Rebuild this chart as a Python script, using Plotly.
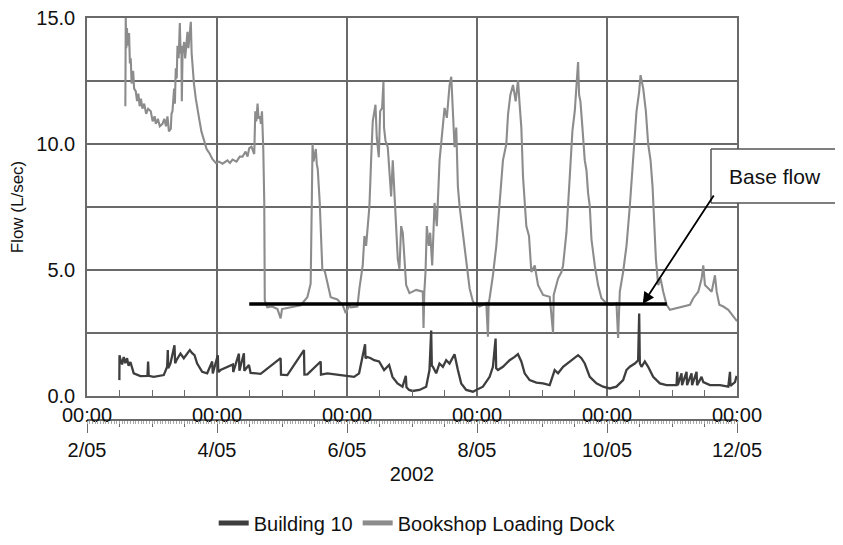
import pandas as pd
import plotly.graph_objects as go

# ---------------- data (time in days after 2 May 2002 00:00) ----------------
start_date = "2002-05-02"
end_date = "2002-05-12"

bookshop_days = [
    0.590, 0.596, 0.605, 0.615, 0.625, 0.647, 0.660, 0.673, 0.686, 0.698, 0.710, 0.725, 0.750,
    0.770, 0.790, 0.810, 0.830, 0.853, 0.880, 0.910, 0.940, 0.981, 1.010, 1.040, 1.058, 1.090,
    1.120, 1.161, 1.190, 1.215, 1.238, 1.260, 1.289, 1.300, 1.315, 1.340, 1.352, 1.366, 1.380,
    1.392, 1.410, 1.428, 1.440, 1.452, 1.459, 1.470, 1.495, 1.510, 1.530, 1.546, 1.560, 1.580,
    1.597, 1.610, 1.623, 1.645, 1.674, 1.700, 1.726, 1.760, 1.803, 1.840, 1.880, 1.930, 1.983,
    2.030, 2.085, 2.160, 2.200, 2.239, 2.300, 2.350, 2.393, 2.440, 2.470, 2.496, 2.530, 2.573,
    2.589, 2.605, 2.624, 2.640, 2.661, 2.675, 2.692, 2.712, 2.727, 2.735, 2.773, 2.850, 2.930,
    2.979, 3.000, 3.100, 3.200, 3.287, 3.390, 3.441, 3.460, 3.470, 3.485, 3.500, 3.520, 3.535,
    3.550, 3.580, 3.621, 3.657, 3.688, 3.749, 3.852, 3.934, 3.955, 3.980, 4.037, 4.057, 4.160,
    4.191, 4.242, 4.268, 4.294, 4.345, 4.371, 4.396, 4.438, 4.458, 4.489, 4.510, 4.540, 4.561,
    4.570, 4.592, 4.627, 4.653, 4.679, 4.704, 4.730, 4.756, 4.781, 4.807, 4.833, 4.858, 4.884,
    4.910, 4.961, 5.064, 5.166, 5.177, 5.190, 5.208, 5.228, 5.259, 5.280, 5.311, 5.347, 5.382,
    5.424, 5.465, 5.501, 5.536, 5.578, 5.604, 5.629, 5.655, 5.681, 5.706, 5.732, 5.783, 5.835,
    5.860, 5.886, 5.937, 5.989, 6.040, 6.091, 6.143, 6.168, 6.180, 6.194, 6.245, 6.297, 6.348,
    6.399, 6.451, 6.477, 6.513, 6.554, 6.595, 6.631, 6.656, 6.682, 6.708, 6.733, 6.759, 6.800,
    6.836, 6.888, 6.939, 7.016, 7.119, 7.170, 7.180, 7.247, 7.299, 7.324, 7.376, 7.427, 7.468,
    7.504, 7.530, 7.555, 7.571, 7.591, 7.622, 7.658, 7.684, 7.709, 7.735, 7.761, 7.812, 7.863,
    7.915, 7.992, 8.069, 8.146, 8.171, 8.185, 8.197, 8.248, 8.300, 8.351, 8.402, 8.454, 8.495,
    8.516, 8.557, 8.598, 8.633, 8.670, 8.701, 8.726, 8.752, 8.788, 8.824, 8.865, 8.917, 8.968,
    9.071, 9.172, 9.276, 9.327, 9.404, 9.456, 9.481, 9.507, 9.558, 9.610, 9.661, 9.687, 9.728,
    9.789, 9.866, 9.917, 10.000,
]
bookshop_flow = [
    11.5, 15.0, 13.8, 14.6, 13.9, 14.4, 13.2, 13.4, 12.4, 12.5, 12.9, 12.2, 12.1,
    11.7, 12.0, 11.5, 11.8, 11.4, 11.6, 11.2, 11.4, 11.3, 10.9, 11.1, 10.8, 11.0,
    10.7, 10.8, 11.0, 10.7, 11.1, 10.5, 10.6, 11.2, 11.3, 12.2, 11.6, 13.0, 12.6,
    13.9, 13.4, 14.8, 13.6, 13.9, 11.7, 13.6, 14.05, 13.4, 14.2, 14.45, 13.8, 14.6,
    14.85, 13.6, 13.0, 12.4, 11.8, 11.3, 11.0, 10.5, 10.1, 9.8, 9.65, 9.4, 9.25,
    9.3, 9.22, 9.35, 9.25, 9.38, 9.3, 9.5, 9.5, 9.7, 9.5, 9.84, 9.9, 9.6,
    11.3, 10.9, 11.6, 11.0, 11.1, 10.8, 11.3, 9.8, 7.7, 3.79, 3.52, 3.55, 3.45,
    3.08, 3.45, 3.5, 3.55, 3.6, 3.92, 4.46, 8.0, 10.0, 9.3, 9.6, 9.8, 9.2,
    9.0, 7.7, 5.0, 4.97, 4.58, 3.92, 3.83, 3.6, 3.47, 3.29, 3.6, 3.52, 3.55,
    4.27, 5.18, 6.35, 5.96, 7.53, 9.35, 10.9, 11.56, 10.26, 9.48, 11.3, 11.43, 12.47,
    10.65, 10.13, 9.87, 8.96, 7.92, 9.35, 8.05, 6.61, 5.44, 5.05, 6.74, 6.48, 5.18,
    4.4, 4.08, 4.21, 4.14, 2.7, 4.14, 4.92, 6.74, 5.96, 6.48, 5.18, 7.66, 6.74,
    9.35, 10.65, 11.43, 11.04, 12.34, 12.67, 11.17, 9.87, 10.65, 8.31, 7.53, 6.48, 5.44,
    4.79, 4.27, 3.75, 3.62, 3.55, 3.62, 3.68, 2.35, 3.7, 3.88, 4.79, 5.96, 7.53,
    9.35, 10.0, 11.17, 11.95, 12.34, 11.69, 12.54, 11.56, 10.65, 8.7, 7.79, 6.74, 6.35,
    4.92, 5.18, 4.4, 4.01, 3.94, 2.5, 4.01, 4.66, 4.92, 5.18, 6.48, 8.7, 10.52,
    11.3, 12.47, 13.25, 11.95, 11.69, 10.65, 9.35, 8.96, 8.05, 7.53, 6.22, 5.18, 4.4,
    3.88, 3.68, 3.62, 3.68, 2.3, 4.0, 4.14, 4.92, 5.96, 7.53, 9.35, 11.3, 12.08,
    12.73, 12.21, 11.3, 10.0, 9.35, 8.31, 6.74, 5.44, 4.4, 4.66, 4.14, 3.62, 3.42,
    3.49, 3.55, 3.62, 3.88, 4.14, 4.66, 5.18, 4.4, 4.27, 4.14, 4.79, 4.14, 3.62,
    3.55, 3.42, 3.23, 2.97,
]

building10_days = [
    0.498, 0.500, 0.514, 0.540, 0.565, 0.590, 0.616, 0.640, 0.668, 0.719, 0.822, 0.930, 0.940,
    0.950, 1.027, 1.181, 1.233, 1.243, 1.250, 1.284, 1.346, 1.356, 1.376, 1.438, 1.489, 1.582,
    1.618, 1.654, 1.695, 1.772, 1.849, 1.926, 1.935, 2.013, 2.020, 2.054, 2.244, 2.250, 2.337,
    2.345, 2.414, 2.420, 2.491, 2.517, 2.671, 2.979, 2.985, 3.082, 3.338, 3.345, 3.390, 3.595,
    3.600, 3.698, 3.903, 4.109, 4.186, 4.237, 4.278, 4.285, 4.314, 4.366, 4.417, 4.494, 4.571,
    4.648, 4.700, 4.777, 4.854, 4.905, 4.915, 4.956, 5.008, 5.115, 5.218, 5.269, 5.295, 5.305,
    5.321, 5.372, 5.423, 5.475, 5.526, 5.577, 5.654, 5.706, 5.757, 5.834, 5.937, 5.988, 6.091,
    6.194, 6.245, 6.286, 6.295, 6.322, 6.399, 6.450, 6.502, 6.579, 6.630, 6.682, 6.733, 6.810,
    6.913, 7.015, 7.118, 7.195, 7.247, 7.324, 7.426, 7.503, 7.555, 7.606, 7.658, 7.735, 7.837,
    7.940, 8.043, 8.145, 8.248, 8.299, 8.351, 8.428, 8.479, 8.495, 8.505, 8.531, 8.582, 8.633,
    8.710, 8.813, 8.916, 9.070, 9.080, 9.090, 9.147, 9.155, 9.224, 9.232, 9.301, 9.309, 9.378,
    9.386, 9.455, 9.481, 9.584, 9.738, 9.866, 9.892, 9.900, 9.969, 9.994,
]
building10_flow = [
    0.63, 1.62, 1.45, 1.25, 1.55, 1.3, 1.5, 1.2, 1.35, 0.9, 0.79, 0.8, 1.37,
    0.8, 0.76, 0.83, 1.16, 1.82, 1.1, 1.29, 2.01, 1.3, 1.42, 1.68, 1.5, 1.82,
    1.7, 1.62, 1.29, 0.96, 0.9, 1.37, 0.9, 1.62, 0.95, 1.03, 1.25, 0.95, 1.68,
    1.0, 1.7, 1.0, 1.23, 0.92, 0.88, 1.5, 0.85, 0.83, 1.82, 0.85, 0.86, 1.37,
    0.85, 0.9, 0.83, 0.76, 0.9, 1.55, 2.05, 1.5, 1.55, 1.5, 1.42, 1.37, 1.03,
    1.23, 0.76, 0.5, 0.37, 0.8, 0.35, 0.24, 0.2, 0.24, 0.37, 1.03, 2.6, 1.2,
    1.16, 0.9, 1.29, 1.16, 1.42, 1.29, 1.66, 1.03, 0.5, 0.24, 0.17, 0.24, 0.37,
    0.76, 1.16, 2.28, 1.1, 1.03, 1.16, 1.29, 1.42, 1.55, 1.66, 1.37, 0.9, 0.63,
    0.53, 0.5, 0.43, 1.03, 0.9, 1.16, 1.37, 1.55, 1.62, 1.5, 1.29, 0.76, 0.5,
    0.37, 0.3, 0.37, 0.63, 1.03, 1.16, 1.29, 1.42, 3.27, 1.3, 1.16, 1.37, 1.16,
    0.76, 0.5, 0.43, 0.43, 0.96, 0.43, 0.9, 0.43, 0.96, 0.43, 0.9, 0.43, 0.96,
    0.43, 0.76, 0.55, 0.43, 0.43, 0.37, 0.96, 0.4, 0.55, 0.8,
]

base_flow_value = 3.65
base_flow_days = [2.496, 8.92]
arrow_head_day = 8.55

y_tick_values = [0, 2.5, 5, 7.5, 10, 12.5, 15]
y_tick_labels = ["0.0", "", "5.0", "", "10.0", "", "15.0"]

series_names = ["Building 10", "Bookshop Loading Dock"]
annotation_text = "Base flow"

# ---------------- figure ----------------
base = pd.Timestamp(start_date)
def to_time(days):
    return base + pd.to_timedelta(pd.Series(days, dtype=float), unit="D")

dark = "#3e3e3e"
light = "#8c8c8c"
grid = "#6a6a6a"
font_family = "Liberation Sans, Arial, sans-serif"
DAY = 86400000

fig = go.Figure()
fig.add_trace(go.Scatter(x=to_time(bookshop_days), y=bookshop_flow, mode="lines",
                         line=dict(color=light, width=2.1), showlegend=False))
fig.add_trace(go.Scatter(x=to_time(building10_days), y=building10_flow, mode="lines",
                         line=dict(color=dark, width=2.3), showlegend=False))
fig.add_trace(go.Scatter(x=to_time(base_flow_days), y=[base_flow_value] * 2, mode="lines",
                         line=dict(color="black", width=3.5), showlegend=False))
# legend entries with thick swatches (they also carry the two lower date axes)
fig.add_trace(go.Scatter(x=[None], y=[None], mode="lines", name=series_names[0],
                         line=dict(color=dark, width=5), xaxis="x2"))
fig.add_trace(go.Scatter(x=[None], y=[None], mode="lines", name=series_names[1],
                         line=dict(color=light, width=5), xaxis="x3"))

x_range = [start_date, end_date]
# the page body has an 8px margin, so the figure is made 16px smaller and margins shifted
fig.update_layout(
    template="none",
    width=827, height=529,
    margin=dict(l=79, r=98, t=10, b=117, autoexpand=False),
    paper_bgcolor="white", plot_bgcolor="white",
    font=dict(family=font_family, size=20, color="#111"),
    xaxis=dict(
        type="date", range=x_range, tick0=start_date, dtick=2 * DAY,
        tickformat="%H:%M", showgrid=True, gridcolor=grid, gridwidth=1.5,
        ticks="inside", ticklen=6, tickcolor=grid,
        minor=dict(dtick=DAY / 2, ticks="inside", ticklen=6, tickcolor=grid, showgrid=False),
        showline=True, linecolor=grid, linewidth=1.5, mirror=True,
        anchor="y", tickfont=dict(size=20), zeroline=False, automargin=False,
        ticklabeloverflow="allow",
    ),
    xaxis2=dict(
        type="date", range=x_range, tick0=start_date, dtick=2 * DAY,
        tickformat="%-d/%m", overlaying="x", anchor="free", position=0, side="bottom",
        showgrid=False, ticks="outside", ticklen=12, tickcolor=grid,
        minor=dict(dtick=DAY / 2, ticks="outside", ticklen=6, tickcolor=grid, showgrid=False),
        showline=True, linecolor=grid, linewidth=1.5, zeroline=False, automargin=False,
        title=dict(text="2002", standoff=6, font=dict(size=20)), tickfont=dict(size=20),
        ticklabeloverflow="allow",
    ),
    xaxis3=dict(
        type="date", range=x_range, overlaying="x", anchor="free", position=0, side="bottom",
        tick0=start_date, dtick=DAY / 24, ticks="outside", ticklen=3, tickcolor="#a8a8a8",
        showticklabels=False, showgrid=False, showline=False, zeroline=False, automargin=False,
    ),
    yaxis=dict(
        range=[0, 15], domain=[0.0597, 1], tickmode="array",
        tickvals=y_tick_values, ticktext=y_tick_labels,
        showgrid=True, gridcolor=grid, gridwidth=1.5, zeroline=False,
        showline=True, linecolor=grid, linewidth=1.5, mirror=True,
        ticks="", ticklabelstandoff=6, tickfont=dict(size=20), automargin=False,
        ticklabeloverflow="allow",
        title=dict(text="Flow (L/sec)", standoff=11, font=dict(size=17)),
    ),
    legend=dict(orientation="h", x=0.508, xanchor="center", y=-0.256, yanchor="middle",
                font=dict(size=20), itemwidth=30, traceorder="normal", bgcolor="rgba(0,0,0,0)"),
    showlegend=True,
)

# annotation box (open on the right, running past the edge) and arrow
box_x0, box_x1, box_y0, box_y1 = 0.96, 1.25, 0.5399, 0.6741
fig.add_shape(type="rect", xref="paper", yref="paper", x0=box_x0, x1=box_x1, y0=box_y0, y1=box_y1,
              line=dict(width=0), fillcolor="white", layer="above")
for (xa, ya, xb, yb) in [(box_x0, box_y0, box_x0, box_y1), (box_x0, box_y0, box_x1, box_y0),
                         (box_x0, box_y1, box_x1, box_y1)]:
    fig.add_shape(type="line", xref="paper", yref="paper", x0=xa, y0=ya, x1=xb, y1=yb,
                  line=dict(color="#555", width=1.5), layer="above")
fig.add_annotation(xref="paper", yref="paper", x=1.0585, y=0.6069, text=annotation_text,
                   showarrow=False, font=dict(size=21, color="#111"), xanchor="center", yanchor="middle")
fig.add_annotation(x=to_time([arrow_head_day])[0], y=base_flow_value, xref="x", yref="y",
                   text="", showarrow=True, ax=72, ay=-110, axref="pixel", ayref="pixel",
                   arrowhead=2, arrowsize=1.3, arrowwidth=1.8, arrowcolor="black", standoff=0)

fig.write_html("out.html")
